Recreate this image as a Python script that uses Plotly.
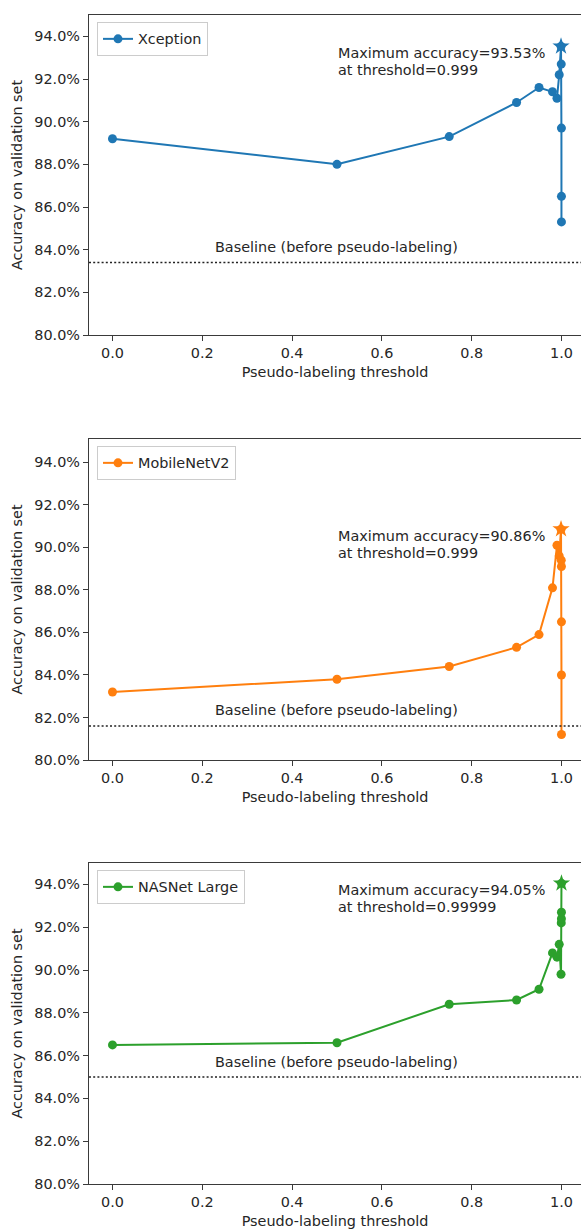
import plotly.graph_objects as go

# Pseudo-labeling threshold sweeps for three backbones (accuracy in %)
xception_thr = [0.0, 0.5, 0.75, 0.9, 0.95, 0.98, 0.99, 0.995, 0.999, 0.9995, 0.9999, 0.99995, 0.99999]
xception_acc = [89.2, 88.0, 89.3, 90.9, 91.6, 91.4, 91.1, 92.2, 93.53, 92.7, 89.7, 86.5, 85.3]
xception_base = 83.4

mobilenet_thr = [0.0, 0.5, 0.75, 0.9, 0.95, 0.98, 0.99, 0.995, 0.999, 0.9995, 0.9999, 0.99995, 0.99999, 0.999999]
mobilenet_acc = [83.2, 83.8, 84.4, 85.3, 85.9, 88.1, 90.1, 89.6, 90.86, 89.4, 89.1, 86.5, 84.0, 81.2]
mobilenet_base = 81.6

nasnet_thr = [0.0, 0.5, 0.75, 0.9, 0.95, 0.98, 0.99, 0.995, 0.999, 0.9995, 0.9999, 0.99995, 0.99999]
nasnet_acc = [86.5, 86.6, 88.4, 88.6, 89.1, 90.8, 90.6, 91.2, 89.8, 92.2, 92.4, 92.7, 94.05]
nasnet_base = 85.0

model_names = ["Xception", "MobileNetV2", "NASNet Large"]
colors = ["#1f77b4", "#ff7f0e", "#2ca02c"]
y_ticks = [80, 82, 84, 86, 88, 90, 92, 94]
y_tick_labels = ["80.0%", "82.0%", "84.0%", "86.0%", "88.0%", "90.0%", "92.0%", "94.0%"]
x_ticks = [0.0, 0.2, 0.4, 0.6, 0.8, 1.0]
x_tick_labels = ["0.0", "0.2", "0.4", "0.6", "0.8", "1.0"]

series = [
    (xception_thr, xception_acc, xception_base),
    (mobilenet_thr, mobilenet_acc, mobilenet_base),
    (nasnet_thr, nasnet_acc, nasnet_base),
]

FONT = "DejaVu Sans"
FS = 14.4
TXT = "#262626"
AX = "#3a3a3a"

W, H = 581, 1231
ML, MR, MT, MB = 89, 0, 15, 47
plot_h = H - MT - MB

# panel extents in page pixels (top, bottom)
panels_px = [(15, 335), (439, 760), (863, 1184)]
y_ranges = [[80, 95], [80, 95.1], [80, 95]]
x_range = [-0.0523, 1.0435]


def frac(py):
    return (H - MB - py) / plot_h


fig = go.Figure()
layout = dict(
    width=W, height=H,
    margin=dict(l=ML, r=MR, t=MT, b=MB, pad=0),
    paper_bgcolor="white", plot_bgcolor="white",
    font=dict(family=FONT, size=FS, color=TXT),
    annotations=[], shapes=[],
)

for i, ((thr, acc, base), name, col) in enumerate(zip(series, model_names, colors)):
    k = "" if i == 0 else str(i + 1)
    xa, ya = "x" + k, "y" + k
    lg = "legend" + k

    fig.add_trace(go.Scatter(
        x=thr, y=acc, mode="lines+markers", name=name,
        line=dict(color=col, width=2),
        marker=dict(color=col, size=9, symbol="circle"),
        xaxis=xa, yaxis=ya, legend=lg, showlegend=True,
    ))

    best = max(range(len(acc)), key=lambda j: acc[j])
    fig.add_trace(go.Scatter(
        x=[thr[best]], y=[acc[best]], mode="markers",
        marker=dict(color=col, size=13, symbol="star", line=dict(width=0)),
        xaxis=xa, yaxis=ya, showlegend=False, hoverinfo="skip",
    ))

    top_px, bot_px = panels_px[i]
    dom = [frac(bot_px), frac(top_px)]

    layout["xaxis" + k] = dict(
        domain=[0, 1], anchor=ya, range=x_range,
        tickmode="array", tickvals=x_ticks, ticktext=x_tick_labels,
        ticks="outside", ticklen=5, tickwidth=1, tickcolor=AX,
        showline=True, linecolor=AX, linewidth=1.3, mirror=True,
        showgrid=False, zeroline=False,
        title=dict(text="Pseudo-labeling threshold", standoff=6,
                   font=dict(size=FS, family=FONT, color=TXT)),
        tickfont=dict(size=FS, family=FONT, color=TXT),
        automargin=False,
    )
    layout["yaxis" + k] = dict(
        domain=dom, anchor=xa, range=y_ranges[i],
        tickmode="array", tickvals=y_ticks, ticktext=y_tick_labels,
        ticks="outside", ticklen=5, tickwidth=1, tickcolor=AX,
        showline=True, linecolor=AX, linewidth=1.3, mirror=False,
        showgrid=False, zeroline=False,
        title=dict(text="Accuracy on validation set", standoff=8,
                   font=dict(size=FS, family=FONT, color=TXT)),
        tickfont=dict(size=FS, family=FONT, color=TXT),
        automargin=False,
    )

    layout[lg] = dict(
        x=8 / (W - ML - MR), y=frac(top_px + 7),
        xanchor="left", yanchor="top",
        bgcolor="white", bordercolor="#cccccc", borderwidth=1,
        font=dict(size=FS, family=FONT, color=TXT),
        itemwidth=30, tracegroupgap=0,
    )

    # baseline (before pseudo-labeling)
    layout["shapes"].append(dict(
        type="line", xref=xa + " domain", yref=ya,
        x0=0, x1=1, y0=base, y1=base,
        line=dict(color="#222222", width=1.6, dash="2px,2.2px"),
    ))
    layout["annotations"].append(dict(
        xref=xa, yref=ya, x=0.5, y=base, yshift=15.5,
        text="Baseline (before pseudo-labeling)", showarrow=False,
        xanchor="center", yanchor="middle",
        font=dict(size=FS, family=FONT, color=TXT),
    ))

    # maximum accuracy note
    layout["annotations"].append(dict(
        xref=xa, yref=ya, x=0.5, y=acc[best], yshift=-7,
        text=f"Maximum accuracy={acc[best]:.2f}%", showarrow=False,
        xanchor="left", yanchor="middle", xshift=-1,
        font=dict(size=FS, family=FONT, color=TXT),
    ))
    layout["annotations"].append(dict(
        xref=xa, yref=ya, x=0.5, y=acc[best], yshift=-24,
        text=f"at threshold={thr[best]:g}", showarrow=False,
        xanchor="left", yanchor="middle", xshift=-1,
        font=dict(size=FS, family=FONT, color=TXT),
    ))

fig.update_layout(**layout)
fig.write_html("out.html")
